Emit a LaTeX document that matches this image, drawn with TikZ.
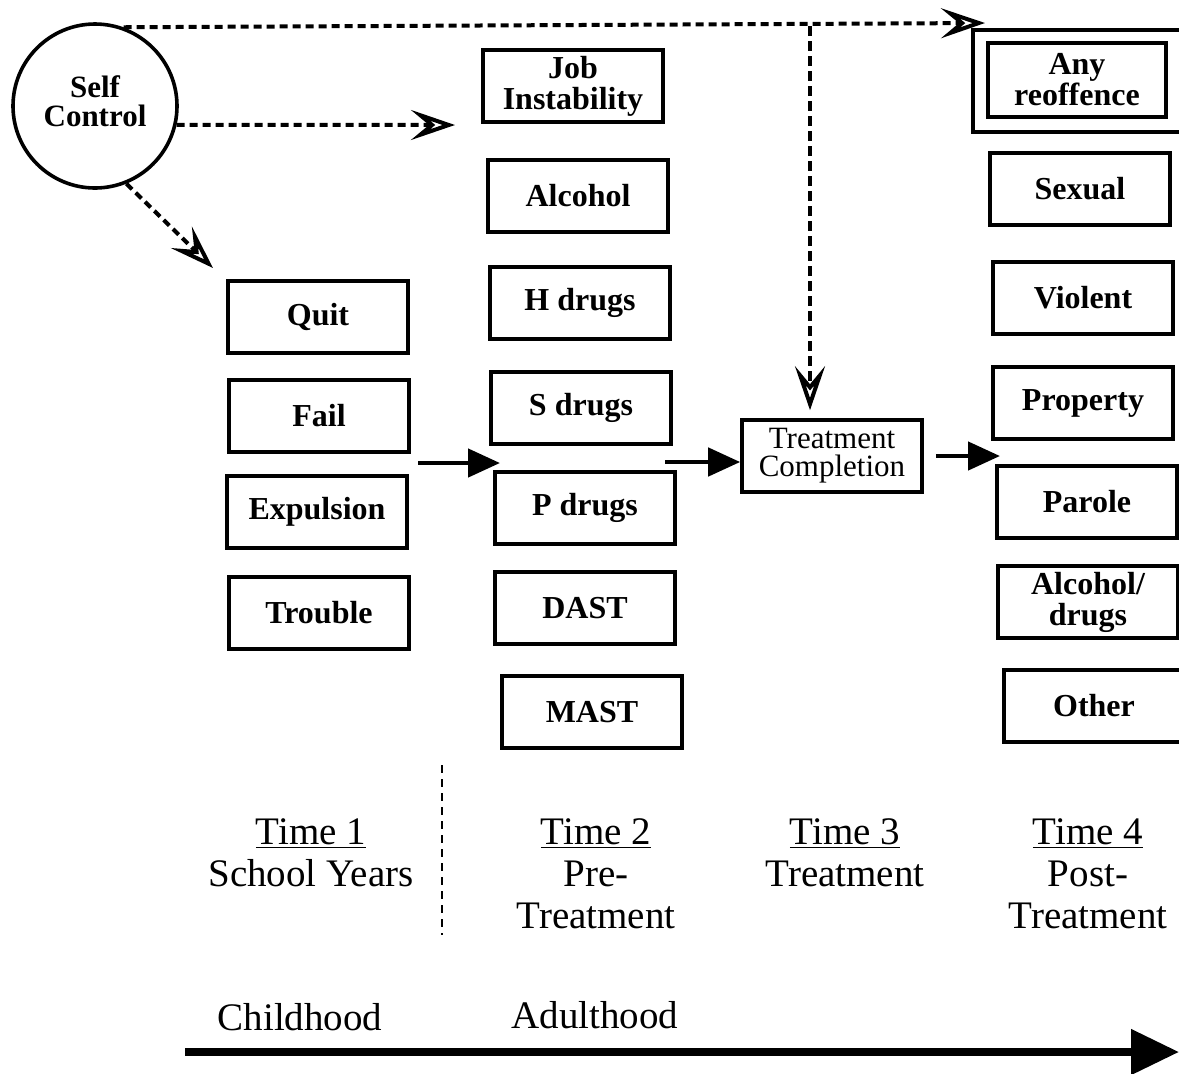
\documentclass[tikz,border=0pt]{standalone}
\usepackage{fontspec}
\setmainfont{Liberation Serif}
\usetikzlibrary{arrows.meta}

\begin{document}
\begin{tikzpicture}[x=0.5pt,y=-0.5pt,
  box/.style={draw,line width=1.8pt,minimum width=90pt,minimum height=36pt,inner sep=1pt,align=center,font=\bfseries\fontsize{16}{15.5}\selectfont},
  ctrl/.style={draw,circle,line width=1.8pt,minimum size=82pt,inner sep=0pt,text depth=5pt,align=center,font=\bfseries\fontsize{15.5}{14.5}\selectfont},
  link/.style={line width=2pt,dash pattern=on 4pt off 2.5pt,-{Stealth[open,length=22pt,width=15pt,inset=9pt]}},
  flow/.style={line width=2.3pt,-{Triangle[length=16pt,width=14pt]}},
  period/.style={anchor=north,inner sep=0pt,align=center,font=\fontsize{19.5}{21}\selectfont},
  stage/.style={inner sep=0pt,font=\fontsize{19.5}{21}\selectfont}
]
\useasboundingbox (0,0) rectangle (1179,1073);
\node[ctrl] (self) at (95,106) {Self\\Control};
% Time 1
\node[box] (quit) at (318,317) {Quit};
\node[box] (fail) at (319,416) {Fail};
\node[box] (expulsion) at (317,512) {Expulsion};
\node[box] (trouble) at (319,613) {Trouble};
% Time 2
\node[box] (job) at (573,86) {Job\\Instability};
\node[box] (alcohol) at (578,196) {Alcohol};
\node[box] (hdrugs) at (580,303) {H drugs};
\node[box] (sdrugs) at (581,408) {S drugs};
\node[box] (pdrugs) at (585,508) {P drugs};
\node[box] (dast) at (585,608) {DAST};
\node[box] (mast) at (592,712) {MAST};
% Time 3
\node[box,font=\fontsize{15.5}{14}\selectfont] (completion) at (832,456) {Treatment\\Completion};
% Time 4
\node[box,minimum width=89pt,minimum height=37pt] (any) at (1077,80) {Any\\reoffence};
\draw[line width=1.8pt] ([shift={(-6.5pt,5.5pt)}]any.north west) rectangle ([shift={(20pt,-6.5pt)}]any.south east);
\node[box] (sexual) at (1080,189) {Sexual};
\node[box] (violent) at (1083,298) {Violent};
\node[box] (property) at (1083,403) {Property};
\node[box] (parole) at (1087,502) {Parole};
\node[box] (alcdrugs) at (1088,602) {Alcohol/\\drugs};
\node[box] (other) at (1094,706) {Other};
% free ends
\coordinate (topend) at (985,23);
\coordinate (branch) at (810,26);
\coordinate (jobin) at (455,125);
\coordinate (quitin) at (213,268);
\coordinate (t1out) at (418,463);
\coordinate (t2in) at (500,463);
\coordinate (t2out) at (665,462);
\coordinate (t4in) at (1000,456);
\coordinate (sepTop) at (442,765);
\coordinate (sepBot) at (442,935);
\coordinate (lifeStart) at (185,1052);
\coordinate (lifeEnd) at (1179,1052);
% labels
\node[period] (time1) at (311,818) {\underline{Time 1}\\School Years};
\node[period] (time2) at (596,818) {\underline{Time 2}\\Pre-\\Treatment};
\node[period] (time3) at (845,818) {\underline{Time 3}\\Treatment};
\node[period] (time4) at (1088,818) {\underline{Time 4}\\Post-\\Treatment};
\node[stage] (child) at (300,1017) {Childhood};
\node[stage] (adult) at (595,1015) {Adulthood};
\path
  (self.70) edge[link] (topend)
  (self.-13) edge[link] (jobin)
  (self.-68) edge[link] (quitin)
  (branch) edge[link,dash pattern=on 5pt off 2.5pt,shorten >=4pt] (branch |- completion.north)
  (t1out) edge[flow] (t2in)
  (t2out) edge[flow] (t2out -| completion.west)
  (completion.east) edge[flow,shorten <=6pt] (t4in)
  (sepTop) edge[line width=1.3pt,dash pattern=on 4pt off 3pt] (sepBot)
  (lifeStart) edge[line width=4pt,-{Triangle[length=24pt,width=22pt]}] (lifeEnd)
;
\end{tikzpicture}
\end{document}
